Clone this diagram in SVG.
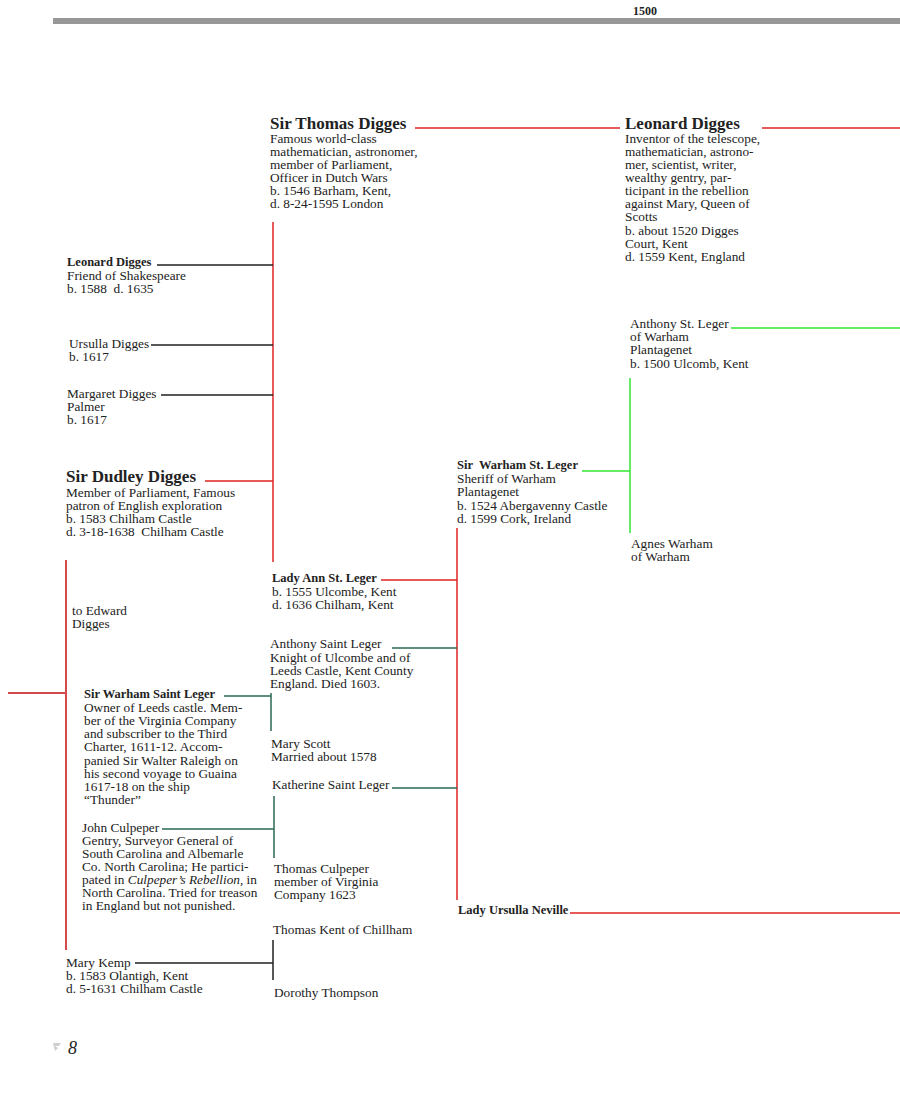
<svg xmlns="http://www.w3.org/2000/svg" width="900" height="1108" viewBox="0 0 900 1108">
<style>
text{font-family:"Liberation Serif","Times New Roman",serif;fill:#222;}
.b{font-size:13.3px;}
.t{font-size:17px;font-weight:bold;}
.n{font-size:12.5px;font-weight:bold;}
.r{stroke:#e02424;stroke-width:1.5;fill:none;}
.r2{stroke:#d24a4a;stroke-width:2;fill:none;}
.g{stroke:#33e633;stroke-width:1.5;fill:none;}
.dg{stroke:#2b6b52;stroke-width:1.5;fill:none;}
.k{stroke:#222;stroke-width:1.5;fill:none;}
</style>
<rect width="900" height="1108" fill="#fff"/>
<g id="header">
<rect x="53" y="18" width="847" height="6" fill="#979797"/>
<text x="645" y="15" font-size="12" font-weight="bold" text-anchor="middle">1500</text>
</g>
<g id="connectors">
<path class="r" d="M415 128H620M762 128H900"/>
<path class="r" d="M273 222V562M205 481H273"/>
<path class="k" d="M157 265H273M151 345H273M161 395H273"/>
<path class="r2" d="M66 560V950M8 693H66"/>
<path class="r" d="M457 528V900M381 580H457M570 913H900"/>
<path class="g" d="M582 471H630M630 378V533M731 328H900"/>
<path class="dg" d="M392 648H457M224 696H271M271 693V731M392 788H457M274 796V858M162 829H274"/>
<path class="k" d="M135 963H273M273 940V980"/>
</g>
<g id="sir-thomas-digges">
<text class="t" x="270" y="129">Sir Thomas Digges</text>
<text class="b"><tspan x="270" y="143">Famous world-class</tspan><tspan x="270" y="156">mathematician, astronomer,</tspan><tspan x="270" y="169">member of Parliament,</tspan><tspan x="270" y="182">Officer in Dutch Wars</tspan><tspan x="270" y="195">b. 1546 Barham, Kent,</tspan><tspan x="270" y="208">d. 8-24-1595 London</tspan></text>
</g>
<g id="leonard-digges-sr">
<text class="t" x="625" y="129">Leonard Digges</text>
<text class="b"><tspan x="625" y="143">Inventor of the telescope,</tspan><tspan x="625" y="156">mathematician, astrono-</tspan><tspan x="625" y="169">mer, scientist, writer,</tspan><tspan x="625" y="182">wealthy gentry, par-</tspan><tspan x="625" y="195">ticipant in the rebellion</tspan><tspan x="625" y="208">against Mary, Queen of</tspan><tspan x="625" y="221">Scotts</tspan><tspan x="625" y="235">b. about 1520 Digges</tspan><tspan x="625" y="248">Court, Kent</tspan><tspan x="625" y="261">d. 1559 Kent, England</tspan></text>
</g>
<g id="leonard-digges-jr">
<text class="n" x="67" y="266">Leonard Digges</text>
<text class="b"><tspan x="67" y="280">Friend of Shakespeare</tspan><tspan x="67" y="293">b. 1588 &#160;d. 1635</tspan></text>
</g>
<g id="ursulla-digges">
<text class="b"><tspan x="69" y="348">Ursulla Digges</tspan><tspan x="69" y="361">b. 1617</tspan></text>
</g>
<g id="margaret-digges">
<text class="b"><tspan x="67" y="398">Margaret Digges</tspan><tspan x="67" y="411">Palmer</tspan><tspan x="67" y="424">b. 1617</tspan></text>
</g>
<g id="sir-dudley-digges">
<text class="t" x="66" y="482">Sir Dudley Digges</text>
<text class="b"><tspan x="66" y="497">Member of Parliament, Famous</tspan><tspan x="66" y="510">patron of English exploration</tspan><tspan x="66" y="523">b. 1583 Chilham Castle</tspan><tspan x="66" y="536">d. 3-18-1638 &#160;Chilham Castle</tspan></text>
</g>
<g id="anthony-st-leger-warham">
<text class="b"><tspan x="630" y="328">Anthony St. Leger</tspan><tspan x="630" y="341">of Warham</tspan><tspan x="630" y="354">Plantagenet</tspan><tspan x="630" y="368">b. 1500 Ulcomb, Kent</tspan></text>
</g>
<g id="sir-warham-st-leger">
<text class="n" x="457" y="469">Sir &#160;Warham St. Leger</text>
<text class="b"><tspan x="457" y="483">Sheriff of Warham</tspan><tspan x="457" y="496">Plantagenet</tspan><tspan x="457" y="510">b. 1524 Abergavenny Castle</tspan><tspan x="457" y="523">d. 1599 Cork, Ireland</tspan></text>
</g>
<g id="agnes-warham">
<text class="b"><tspan x="631" y="548">Agnes Warham</tspan><tspan x="631" y="561">of Warham</tspan></text>
</g>
<g id="lady-ann-st-leger">
<text class="n" x="272" y="582">Lady Ann St. Leger</text>
<text class="b"><tspan x="272" y="596">b. 1555 Ulcombe, Kent</tspan><tspan x="272" y="609">d. 1636 Chilham, Kent</tspan></text>
</g>
<g id="to-edward-digges">
<text class="b"><tspan x="72" y="615">to Edward</tspan><tspan x="72" y="628">Digges</tspan></text>
</g>
<g id="anthony-saint-leger">
<text class="b"><tspan x="270" y="648">Anthony Saint Leger</tspan><tspan x="270" y="662">Knight of Ulcombe and of</tspan><tspan x="270" y="675">Leeds Castle, Kent County</tspan><tspan x="270" y="688">England. Died 1603.</tspan></text>
</g>
<g id="sir-warham-saint-leger">
<text class="n" x="84" y="698">Sir Warham Saint Leger</text>
<text class="b"><tspan x="84" y="712">Owner of Leeds castle. Mem-</tspan><tspan x="84" y="725">ber of the Virginia Company</tspan><tspan x="84" y="738">and subscriber to the Third</tspan><tspan x="84" y="751">Charter, 1611-12. Accom-</tspan><tspan x="84" y="765">panied Sir Walter Raleigh on</tspan><tspan x="84" y="778">his second voyage to Guaina</tspan><tspan x="84" y="791">1617-18 on the ship</tspan><tspan x="84" y="804">“Thunder”</tspan></text>
</g>
<g id="mary-scott">
<text class="b"><tspan x="271" y="748">Mary Scott</tspan><tspan x="271" y="761">Married about 1578</tspan></text>
</g>
<g id="katherine-saint-leger">
<text class="b" x="272" y="789">Katherine Saint Leger</text>
</g>
<g id="john-culpeper">
<text class="b"><tspan x="82" y="832">John Culpeper</tspan><tspan x="82" y="845">Gentry, Surveyor General of</tspan><tspan x="82" y="858">South Carolina and Albemarle</tspan><tspan x="82" y="871">Co. North Carolina; He partici-</tspan><tspan x="82" y="884">pated in <tspan font-style="italic">Culpeper’s Rebellion,</tspan> in</tspan><tspan x="82" y="897">North Carolina. Tried for treason</tspan><tspan x="82" y="910">in England but not punished.</tspan></text>
</g>
<g id="thomas-culpeper">
<text class="b"><tspan x="274" y="873">Thomas Culpeper</tspan><tspan x="274" y="886">member of Virginia</tspan><tspan x="274" y="899">Company 1623</tspan></text>
</g>
<g id="lady-ursulla-neville">
<text class="n" x="458" y="914">Lady Ursulla Neville</text>
</g>
<g id="thomas-kent">
<text class="b" x="273" y="934">Thomas Kent of Chillham</text>
</g>
<g id="mary-kemp">
<text class="b"><tspan x="66" y="967">Mary Kemp</tspan><tspan x="66" y="980">b. 1583 Olantigh, Kent</tspan><tspan x="66" y="993">d. 5-1631 Chilham Castle</tspan></text>
</g>
<g id="dorothy-thompson">
<text class="b" x="274" y="997">Dorothy Thompson</text>
</g>
<g id="page-number">
<path d="M53 1043h8l-2 3h-4l3 2-3 3z" fill="#cfcfcf"/>
<text x="68" y="1054" font-size="18" font-style="italic">8</text>
</g>
</svg>
